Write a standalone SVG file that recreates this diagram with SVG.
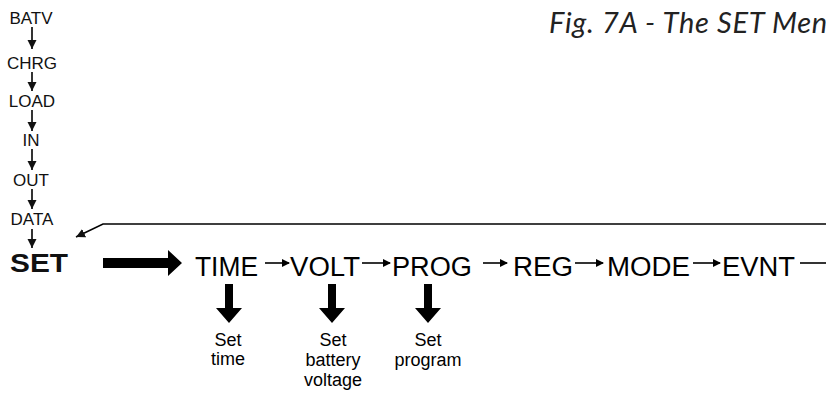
<svg xmlns="http://www.w3.org/2000/svg" width="826" height="394" viewBox="0 0 826 394">
<style>
  .col { font-family: "Liberation Sans", Arial, sans-serif; font-size: 17px; fill: #111; text-anchor: middle; }
  .row { font-family: "Liberation Sans", Arial, sans-serif; font-size: 27px; fill: #000; }
  .lbl { font-family: "Liberation Sans", Arial, sans-serif; font-size: 18px; fill: #000; text-anchor: middle; }
  .set { font-family: "Liberation Sans", Arial, sans-serif; font-size: 26px; font-weight: bold; fill: #111; }
  .title { font-family: Lato, "Open Sans", sans-serif; font-size: 29px; font-style: italic; fill: #222; letter-spacing: 0.7px; }
  .ln { stroke: #000; stroke-width: 1.6; fill: none; }
</style>
<defs>
  <marker id="ah" markerWidth="8" markerHeight="8" refX="7" refY="4" orient="auto" markerUnits="userSpaceOnUse">
    <path d="M0,0 L8,4 L0,8 Z" fill="#000"/>
  </marker>
  <marker id="ahv" markerWidth="10" markerHeight="10" refX="9" refY="5" orient="auto" markerUnits="userSpaceOnUse">
    <path d="M0,0.5 L9,5 L0,9.5 Z" fill="#111"/>
  </marker>
</defs>

<text class="title" x="549" y="33">Fig. 7A - The SET Menu</text>

<g id="BATV"><text class="col" x="31" y="24">BATV</text></g>
<g id="CHRG"><text class="col" x="32" y="69">CHRG</text></g>
<g id="LOAD"><text class="col" x="32" y="107">LOAD</text></g>
<g id="IN"><text class="col" x="31" y="146">IN</text></g>
<g id="OUT"><text class="col" x="31" y="186">OUT</text></g>
<g id="DATA"><text class="col" x="32" y="225">DATA</text></g>
<g id="SET"><text class="set" x="10" y="272" textLength="58" lengthAdjust="spacingAndGlyphs">SET</text></g>

<g id="TIME"><text class="row" x="195" y="276" textLength="63" lengthAdjust="spacingAndGlyphs">TIME</text></g>
<g id="VOLT"><text class="row" x="290" y="276" textLength="70" lengthAdjust="spacingAndGlyphs">VOLT</text></g>
<g id="PROG"><text class="row" x="392" y="276" textLength="80" lengthAdjust="spacingAndGlyphs">PROG</text></g>
<g id="REG"><text class="row" x="513" y="276" textLength="60" lengthAdjust="spacingAndGlyphs">REG</text></g>
<g id="MODE"><text class="row" x="607" y="276" textLength="83" lengthAdjust="spacingAndGlyphs">MODE</text></g>
<g id="EVNT"><text class="row" x="722" y="276" textLength="73" lengthAdjust="spacingAndGlyphs">EVNT</text></g>

<g id="set-time"><text class="lbl" x="228" y="346">Set</text><text class="lbl" x="228" y="365">time</text></g>
<g id="set-voltage"><text class="lbl" x="333" y="346">Set</text><text class="lbl" x="333" y="366">battery</text><text class="lbl" x="333" y="386">voltage</text></g>
<g id="set-program"><text class="lbl" x="428" y="346">Set</text><text class="lbl" x="428" y="366">program</text></g>

<g id="connectors">
  <line class="ln" x1="32" y1="27" x2="32" y2="49" marker-end="url(#ahv)"/>
  <line class="ln" x1="32" y1="72" x2="32" y2="91" marker-end="url(#ahv)"/>
  <line class="ln" x1="32" y1="110" x2="32" y2="131" marker-end="url(#ahv)"/>
  <line class="ln" x1="32" y1="149" x2="32" y2="170" marker-end="url(#ahv)"/>
  <line class="ln" x1="32" y1="189" x2="32" y2="209" marker-end="url(#ahv)"/>
  <line class="ln" x1="32" y1="229" x2="32" y2="248" marker-end="url(#ahv)"/>

  <polyline class="ln" points="826,224 103,224 76,237" marker-end="url(#ahv)"/>

  <polygon points="103,258 168,258 168,250 182,263 168,276 168,268 103,268" fill="#000"/>

  <line class="ln" x1="265" y1="263" x2="289" y2="263" marker-end="url(#ah)"/>
  <line class="ln" x1="362" y1="263" x2="390" y2="263" marker-end="url(#ah)"/>
  <line class="ln" x1="483" y1="263" x2="507" y2="263" marker-end="url(#ah)"/>
  <line class="ln" x1="575" y1="263" x2="603" y2="263" marker-end="url(#ah)"/>
  <line class="ln" x1="693" y1="263" x2="720" y2="263" marker-end="url(#ah)"/>
  <line class="ln" x1="800" y1="263" x2="826" y2="263"/>

  <polygon points="225,284 233,284 233,308 242,308 229,323 216,308 225,308" fill="#000"/>
  <polygon points="328,284 336,284 336,308 345,308 332,323 319,308 328,308" fill="#000"/>
  <polygon points="424,284 432,284 432,308 441,308 428,323 415,308 424,308" fill="#000"/>
</g>
</svg>
